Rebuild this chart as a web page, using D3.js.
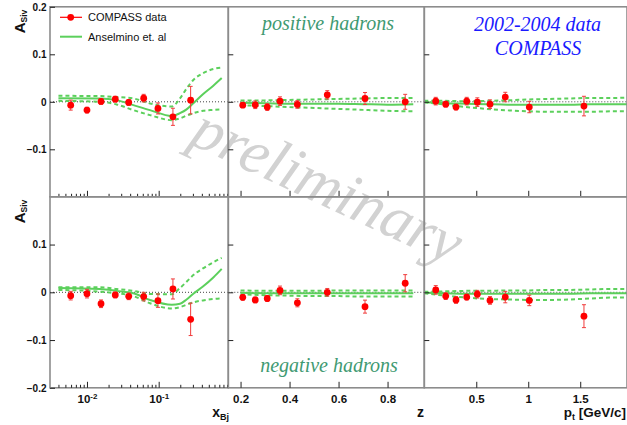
<!DOCTYPE html>
<html><head><meta charset="utf-8">
<script src="https://cdn.jsdelivr.net/npm/d3@7"></script>
<style>body{margin:0;background:#fff}svg{display:block}</style>
</head><body><svg id="c" width="627" height="425"></svg>
<script>
// ---------------- data ----------------
const xBj      = [0.00593, 0.0100, 0.0157, 0.0248, 0.0382, 0.0618, 0.0977, 0.158, 0.279];
const posXVal  = [-0.007, -0.0175, 0.0007, 0.0056, -0.0014, 0.0077, -0.014, -0.0316, 0.0035];
const posXErr  = [0.0105, 0.006, 0.006, 0.006, 0.006, 0.008, 0.0116, 0.018, 0.029];
const negXVal  = [-0.007, -0.0028, -0.024, -0.0056, -0.0084, -0.009, -0.0175, 0.007, -0.0566];
const negXErr  = [0.009, 0.009, 0.008, 0.006, 0.007, 0.009, 0.014, 0.021, 0.034];

const zBins    = [0.209, 0.260, 0.309, 0.361, 0.432, 0.554, 0.708, 0.872];
const posZVal  = [-0.007, -0.0063, -0.011, 0.0014, -0.0056, 0.0147, 0.007, 0.0];
const posZErr  = [0.005, 0.008, 0.007, 0.009, 0.008, 0.0087, 0.0126, 0.0157];
const negZVal  = [-0.0105, -0.016, -0.013, 0.004, -0.022, 0.0, -0.03, 0.019];
const negZErr  = [0.006, 0.006, 0.006, 0.009, 0.0084, 0.008, 0.0136, 0.018];

const ptBins   = [0.11, 0.206, 0.305, 0.408, 0.51, 0.632, 0.779, 1.01, 1.536];
const posPtVal = [0.0014, -0.005, -0.011, 0.0014, -0.0007, -0.005, 0.01, -0.011, -0.009];
const posPtErr = [0.008, 0.006, 0.006, 0.008, 0.009, 0.009, 0.01, 0.012, 0.0206];
const negPtVal = [0.005, -0.008, -0.016, -0.01, -0.004, -0.017, -0.01, -0.017, -0.05];
const negPtErr = [0.009, 0.007, 0.007, 0.006, 0.008, 0.008, 0.012, 0.011, 0.024];

// theory (Anselmino et al.) grids and curves
const thX       = [0.004, 0.0152, 0.0259, 0.0443, 0.0757, 0.152, 0.198, 0.245, 0.304, 0.414, 0.578, 0.757];
const thPosXMid = [0.0077, 0.007, 0.0035, -0.007, -0.0175, -0.030, -0.024, -0.016, -0.003, 0.016, 0.034, 0.050];
const thPosXUp  = [0.0126, 0.012, 0.010, 0.007, -0.0035, -0.010, 0.007, 0.028, 0.046, 0.060, 0.069, 0.072];
const thPosXLo  = [0.002, 0.0, -0.0056, -0.0175, -0.028, -0.0386, -0.035, -0.029, -0.024, -0.019, -0.017, -0.016];
const thNegXMid = [0.009, 0.007, 0.003, -0.002, -0.016, -0.026, -0.024, -0.015, -0.003, 0.012, 0.031, 0.049];
const thNegXUp  = [0.0105, 0.0105, 0.007, 0.003, -0.0035, -0.004, 0.009, 0.022, 0.036, 0.050, 0.063, 0.072];
const thNegXLo  = [0.005, 0.0014, -0.002, -0.008, -0.023, -0.034, -0.031, -0.026, -0.021, -0.017, -0.014, -0.0126];

const thZ       = [0.2, 0.3, 0.4, 0.5, 0.6, 0.7, 0.8, 0.905];
const thPosZMid = [-0.002, -0.003, -0.004, -0.004, -0.004, -0.005, -0.006, -0.005];
const thPosZUp  = [0.003, 0.003, 0.004, 0.005, 0.006, 0.007, 0.008, 0.008];
const thPosZLo  = [-0.007, -0.009, -0.011, -0.013, -0.015, -0.017, -0.019, -0.020];
const thNegZMid = [-0.001, -0.002, -0.002, -0.002, -0.002, -0.002, -0.002, -0.002];
const thNegZUp  = [0.004, 0.003, 0.003, 0.003, 0.004, 0.004, 0.004, 0.004];
const thNegZLo  = [-0.004, -0.006, -0.007, -0.008, -0.008, -0.009, -0.009, -0.009];

const thPt       = [0.0, 0.2, 0.4, 0.6, 0.8, 1.0, 1.2, 1.4, 1.6, 1.8, 1.95];
const thPosPtMid = [-0.001, -0.003, -0.004, -0.005, -0.006, -0.006, -0.006, -0.006, -0.005, -0.005, -0.005];
const thPosPtUp  = [0.002, 0.002, 0.001, 0.002, 0.003, 0.005, 0.006, 0.007, 0.008, 0.008, 0.009];
const thPosPtLo  = [-0.001, -0.006, -0.011, -0.015, -0.018, -0.020, -0.021, -0.021, -0.021, -0.020, -0.020];
const thNegPtMid = [-0.001, -0.002, -0.003, -0.003, -0.003, -0.003, -0.003, -0.003, -0.002, -0.002, -0.002];
const thNegPtUp  = [0.001, 0.002, 0.003, 0.003, 0.004, 0.004, 0.005, 0.005, 0.006, 0.007, 0.007];
const thNegPtLo  = [-0.002, -0.007, -0.011, -0.014, -0.015, -0.016, -0.016, -0.015, -0.013, -0.011, -0.011];

const yTicks = [-0.1, 0, 0.1];
const zTicks = [0.2, 0.4, 0.6, 0.8];
const ptTicks = [0.5, 1, 1.5];
const logMajor = [0.01, 0.1];
const logMinor = [0.004,0.005,0.006,0.007,0.008,0.009,0.02,0.03,0.04,0.05,0.06,0.07,0.08,0.09,0.2,0.3,0.4,0.5,0.6,0.7,0.8,0.9];

// ---------------- layout ----------------
const svg = d3.select('#c');
const colX = [[50, 228.3], [228.3, 424.3], [424.3, 627]];
const rowY = [[6.8, 196.8], [196.8, 387.8]];
const xScales = [
  d3.scaleLog().domain([0.00305, 0.935]).range(colX[0]),
  d3.scaleLinear().domain([0.15, 0.95]).range(colX[1]),
  d3.scaleLinear().domain([0, 1.95]).range(colX[2])
];
const yScales = rowY.map(r => d3.scaleLinear().domain([-0.2, 0.2]).range([r[1], r[0]]));

const GREEN = '#5cd05c', RED = '#ff0000', ERR = '#f03c3c', FRAME = '#8c8c8c';
const SANS = "'Liberation Sans', Arial, sans-serif";
const SERIF = "'Liberation Serif', 'Times New Roman', serif";

// watermark (behind)
svg.append('text').attr('transform', 'translate(319,204) rotate(25)')
  .attr('text-anchor', 'middle').attr('font-family', SERIF).attr('font-style', 'italic')
  .attr('font-size', 62).attr('fill', '#d2d2d2').text('preliminary');

const panels = [
  [{xs: xBj, v: posXVal, e: posXErr, tx: thX, mid: thPosXMid, up: thPosXUp, lo: thPosXLo},
   {xs: zBins, v: posZVal, e: posZErr, tx: thZ, mid: thPosZMid, up: thPosZUp, lo: thPosZLo},
   {xs: ptBins, v: posPtVal, e: posPtErr, tx: thPt, mid: thPosPtMid, up: thPosPtUp, lo: thPosPtLo}],
  [{xs: xBj, v: negXVal, e: negXErr, tx: thX, mid: thNegXMid, up: thNegXUp, lo: thNegXLo},
   {xs: zBins, v: negZVal, e: negZErr, tx: thZ, mid: thNegZMid, up: thNegZUp, lo: thNegZLo},
   {xs: ptBins, v: negPtVal, e: negPtErr, tx: thPt, mid: thNegPtMid, up: thNegPtUp, lo: thNegPtLo}]
];

panels.forEach((row, r) => {
  const y = yScales[r];
  row.forEach((p, c) => {
    const x = xScales[c];
    const g = svg.append('g');
    // zero dotted line
    g.append('line').attr('x1', colX[c][0]).attr('x2', colX[c][1])
      .attr('y1', y(0)).attr('y2', y(0))
      .attr('stroke', '#444').attr('stroke-width', 1).attr('stroke-dasharray', '1,2');
    const line = vals => d3.line().curve(d3.curveMonotoneX)
      .x((d, i) => x(p.tx[i])).y(d => y(d))(vals);
    g.append('path').attr('d', line(p.up)).attr('fill', 'none').attr('stroke', GREEN)
      .attr('stroke-width', 2).attr('stroke-dasharray', '4,3');
    g.append('path').attr('d', line(p.lo)).attr('fill', 'none').attr('stroke', GREEN)
      .attr('stroke-width', 2).attr('stroke-dasharray', '4,3');
    g.append('path').attr('d', line(p.mid)).attr('fill', 'none').attr('stroke', GREEN)
      .attr('stroke-width', 2);
    // data points
    p.xs.forEach((xv, i) => {
      const cx = x(xv), y0 = y(p.v[i] - p.e[i]), y1 = y(p.v[i] + p.e[i]);
      g.append('line').attr('x1', cx).attr('x2', cx).attr('y1', y0).attr('y2', y1)
        .attr('stroke', ERR).attr('stroke-width', 1);
      [y0, y1].forEach(yy => g.append('line').attr('x1', cx - 2).attr('x2', cx + 2)
        .attr('y1', yy).attr('y2', yy).attr('stroke', ERR).attr('stroke-width', 1));
      g.append('circle').attr('cx', cx).attr('cy', y(p.v[i])).attr('r', 3.4).attr('fill', RED);
    });
    // frame
    g.append('rect').attr('x', colX[c][0]).attr('y', rowY[r][0])
      .attr('width', colX[c][1] - colX[c][0]).attr('height', rowY[r][1] - rowY[r][0])
      .attr('fill', 'none').attr('stroke', FRAME).attr('stroke-width', 1.6);
    // y axis ticks (inside)
    const ya = svg.append('g').attr('transform', `translate(${colX[c][0]},0)`)
      .call(d3.axisLeft(y).tickValues(c === 0 ? (r === 0 ? [-0.1, 0, 0.1, 0.2] : [-0.2, -0.1, 0, 0.1]) : yTicks)
        .tickSize(-5).tickPadding(3.5)
        .tickFormat(c === 0 ? (d => d === 0 ? '0' : d3.format('.1f')(d)) : ''));
    ya.select('.domain').remove();
    ya.selectAll('line').attr('stroke', '#222');
    ya.selectAll('text').attr('font-family', SANS).attr('font-weight', 'bold').attr('font-size', 10)
      .attr('fill', '#111');
    // x axis ticks (inside, upward)
    const xg = svg.append('g').attr('transform', `translate(0,${rowY[r][1]})`);
    if (c === 0) {
      xg.call(d3.axisBottom(x).tickValues(logMinor).tickSize(-3).tickFormat(''));
      const xm = svg.append('g').attr('transform', `translate(0,${rowY[r][1]})`)
        .call(d3.axisBottom(x).tickValues(logMajor).tickSize(-6).tickFormat(''));
      xm.select('.domain').remove();
      xm.selectAll('line').attr('stroke', '#222');
      if (r === 1) {
        xm.selectAll('.tick').append('text').attr('y', 15.5).attr('text-anchor', 'middle')
          .attr('font-family', SANS).attr('font-weight', 'bold').attr('font-size', 11.5).attr('fill', '#111')
          .each(function (d) {
            const t = d3.select(this);
            t.append('tspan').text('10');
            t.append('tspan').attr('font-size', 8).attr('dy', -4.5).text(Math.round(Math.log10(d)));
          });
      }
    } else {
      xg.call(d3.axisBottom(x).tickValues(c === 1 ? zTicks : ptTicks).tickSize(-6).tickPadding(7.5)
        .tickFormat(r === 1 ? d3.format('') : ''));
      xg.selectAll('text').attr('font-family', SANS).attr('font-weight', 'bold')
        .attr('font-size', 11.5).attr('fill', '#111');
    }
    xg.select('.domain').remove();
    xg.selectAll('line').attr('stroke', '#222');
  });
  // y title
  const yt = svg.append('text').attr('transform', `translate(24.5,${rowY[r][0] + 26.5}) rotate(-90)`)
    .attr('font-family', SANS).attr('font-weight', 'bold').attr('font-size', 15).attr('fill', '#111');
  yt.append('tspan').text('A');
  yt.append('tspan').attr('font-size', 8.5).attr('dy', 2).text('Siv');
});

// x titles
const xt1 = svg.append('text').attr('x', 229).attr('y', 416.5).attr('text-anchor', 'end')
  .attr('font-family', SANS).attr('font-weight', 'bold').attr('font-size', 14).attr('fill', '#111');
xt1.append('tspan').text('x');
xt1.append('tspan').attr('font-size', 9).attr('dy', 3.5).text('Bj');
svg.append('text').attr('x', 424).attr('y', 416.5).attr('text-anchor', 'end')
  .attr('font-family', SANS).attr('font-weight', 'bold').attr('font-size', 14).attr('fill', '#111').text('z');
const xt3 = svg.append('text').attr('x', 626).attr('y', 416.5).attr('text-anchor', 'end')
  .attr('font-family', SANS).attr('font-weight', 'bold').attr('font-size', 13.5).attr('fill', '#111');
xt3.append('tspan').text('p');
xt3.append('tspan').attr('font-size', 9).attr('dy', 3.5).text('t');
xt3.append('tspan').attr('dy', -3.5).text(' [GeV/c]');

// panel texts
const note = (x, y, txt, col) => svg.append('text').attr('x', x).attr('y', y).attr('text-anchor', 'middle')
  .attr('font-family', SERIF).attr('font-style', 'italic').attr('font-size', 20).attr('fill', col).text(txt);
note(328, 29.5, 'positive hadrons', '#3f9a72');
note(329, 371.5, 'negative hadrons', '#3f9a72');
note(537.5, 30.5, '2002-2004 data', '#1a1aff');
note(538, 55, 'COMPASS', '#1a1aff');

// legend
const lg = svg.append('g');
lg.append('line').attr('x1', 60).attr('x2', 82).attr('y1', 17.3).attr('y2', 17.3).attr('stroke', RED).attr('stroke-width', 1.2);
lg.append('circle').attr('cx', 70.7).attr('cy', 17.3).attr('r', 3.4).attr('fill', RED);
lg.append('text').attr('x', 88).attr('y', 21.3).attr('font-family', SANS).attr('font-size', 11).attr('fill', '#111').text('COMPASS data');
lg.append('line').attr('x1', 60).attr('x2', 82).attr('y1', 36.7).attr('y2', 36.7).attr('stroke', GREEN).attr('stroke-width', 2);
lg.append('text').attr('x', 88).attr('y', 40.7).attr('font-family', SANS).attr('font-size', 11).attr('fill', '#111').text('Anselmino et. al');
</script></body></html>
